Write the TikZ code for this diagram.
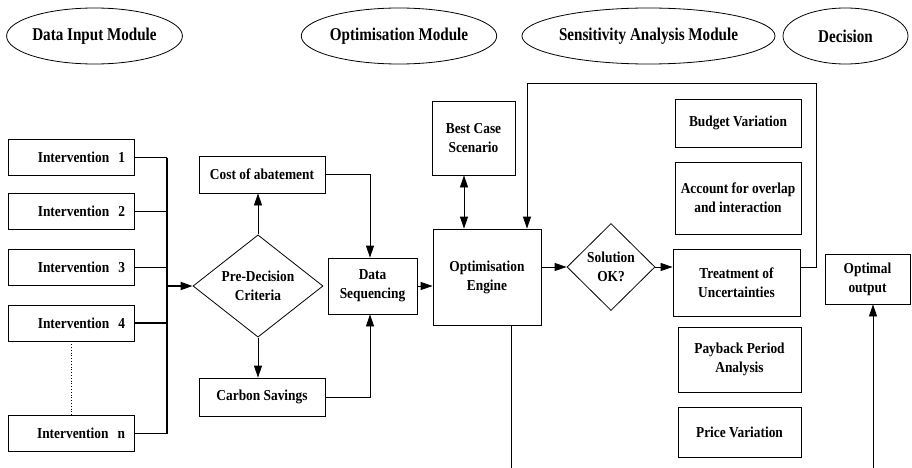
\documentclass[tikz,border=0pt]{standalone}
\usepackage{fontspec}
\setmainfont{Liberation Serif}
\newfontfamily\boxfont{Liberation Serif}[FakeStretch=0.88]
\newfontfamily\headfont{Liberation Serif}[FakeStretch=0.84]
\usetikzlibrary{shapes.geometric,arrows.meta}

\tikzset{
  lbl/.style={font=\boxfont\fontsize{15.2}{19}\selectfont\bfseries, align=center},
  box/.style={lbl, draw, line width=0.8pt, inner sep=0pt},
  ibox/.style={box, minimum height=36pt, text width=108pt, inner xsep=9pt, align=right},
  dia/.style={lbl, draw, line width=0.8pt, diamond, inner sep=0pt},
  module/.style={draw, ellipse, line width=0.8pt, inner sep=0pt,
    font=\headfont\fontsize{18}{21}\selectfont\bfseries, minimum height=56pt},
  wire/.style={line width=0.8pt},
  bus/.style={line width=1.8pt},
  arr/.style={wire, -{Triangle[length=12pt,width=8pt]}},
  darr/.style={wire, {Triangle[length=12pt,width=8pt]}-{Triangle[length=12pt,width=8pt]}},
}

\begin{document}
\begin{tikzpicture}[x=1pt, y=-1pt]
\useasboundingbox (0,0) rectangle (912,468);

% module headings
\node[module, minimum width=175pt] (mIn)  at (94.5,36) {Data Input Module};
\node[module, minimum width=194pt] (mOpt) at (399,36)  {Optimisation Module};
\node[module, minimum width=235pt] (mSen) at (648.5,36) {Sensitivity Analysis Module};
\node[module, minimum width=125pt] (mDec) at (845.5,36) {Decision};

% interventions
\node[ibox] (in1) at (71,157.5) {Intervention\hspace{0.6em}1};
\node[ibox] (in2) at (71,211.5) {Intervention\hspace{0.6em}2};
\node[ibox] (in3) at (71,267.5) {Intervention\hspace{0.6em}3};
\node[ibox] (in4) at (71,323)   {Intervention\hspace{0.6em}4};
\node[ibox] (inn) at (71,433.5) {Intervention\hspace{0.6em}n};
\draw[wire, dotted] (in4.south) -- (inn.north);

% collecting bus
\coordinate (busTop) at (167,157.5);
\coordinate (busBot) at (167,433.5);
\coordinate (busOut) at (167,286);
\foreach \n in {in1,in2,in3,in4,inn}
  \draw[bus] (\n.east) -- (\n.east -| busTop);
\draw[bus] (busTop) -- (busBot);

% pre-decision stage
\node[dia, minimum width=130pt, minimum height=98pt] (pre) at (258,286) {Pre-Decision\\Criteria};
\node[box, minimum width=126pt, minimum height=37pt] (cost) at (262,174.5) {Cost of abatement};
\node[box, minimum width=126pt, minimum height=38pt] (carb) at (262,397) {Carbon Savings};
\node[box, minimum width=89pt, minimum height=56pt] (dseq) at (372.5,286) {Data\\Sequencing};

\draw[bus, -{Triangle[length=12pt,width=8pt]}] (busOut) -- (pre.west);
\draw[arr] (pre.north) -- (pre.north |- cost.south);
\draw[arr] (pre.south) -- (pre.south |- carb.north);
\draw[arr] (cost.east) -| ([xshift=-2.5pt]dseq.north);
\draw[arr] (carb.east) -| ([xshift=-2.5pt]dseq.south);

% optimisation
\node[box, minimum width=83pt, minimum height=74pt] (best) at (473.5,138) {Best Case\\Scenario};
\node[box, minimum width=108pt, minimum height=96pt] (opt) at (487,277) {Optimisation\\Engine};
\node[dia, minimum width=88pt, minimum height=87pt] (sol) at (611,267) {Solution\\OK?};

\draw[arr] (dseq.east) -- (dseq.east -| opt.west);
\draw[darr] ([xshift=-9.5pt]best.south) -- ([xshift=-9.5pt]best.south |- opt.north);
\draw[arr] (sol.west -| opt.east) -- (sol.west);

% sensitivity analysis
\node[box, minimum width=126pt, minimum height=48pt] (budg) at (738,123)   {Budget Variation};
\node[box, minimum width=126pt, minimum height=72pt] (acct) at (738,198)   {Account for overlap\\and interaction};
\node[box, minimum width=127pt, minimum height=67pt] (trt)  at (736.5,282.5) {Treatment of\\Uncertainties};
\node[box, minimum width=123pt, minimum height=65pt] (pay)  at (739.5,359.5) {Payback Period\\Analysis};
\node[box, minimum width=123pt, minimum height=50pt] (price) at (739.5,432) {Price Variation};

\draw[arr] (sol.east) -- (sol.east -| trt.west);

% feedback loop back to the engine
\coordinate (loopA) at (816,267);
\coordinate (loopB) at (816,83);
\draw[arr] (sol.east -| trt.east) -- (loopA) -- (loopB) -| ([xshift=40pt]opt.north);

% decision
\node[box, minimum width=85pt, minimum height=50pt] (out) at (867.5,279) {Optimal\\output};

% links running off the lower edge
\coordinate (optDown) at (511,468);
\coordinate (outUp) at (873,468);
\draw[wire] ([xshift=24pt]opt.south) -- (optDown);
\draw[arr] (outUp) -- (outUp |- out.south);

\end{tikzpicture}
\end{document}
